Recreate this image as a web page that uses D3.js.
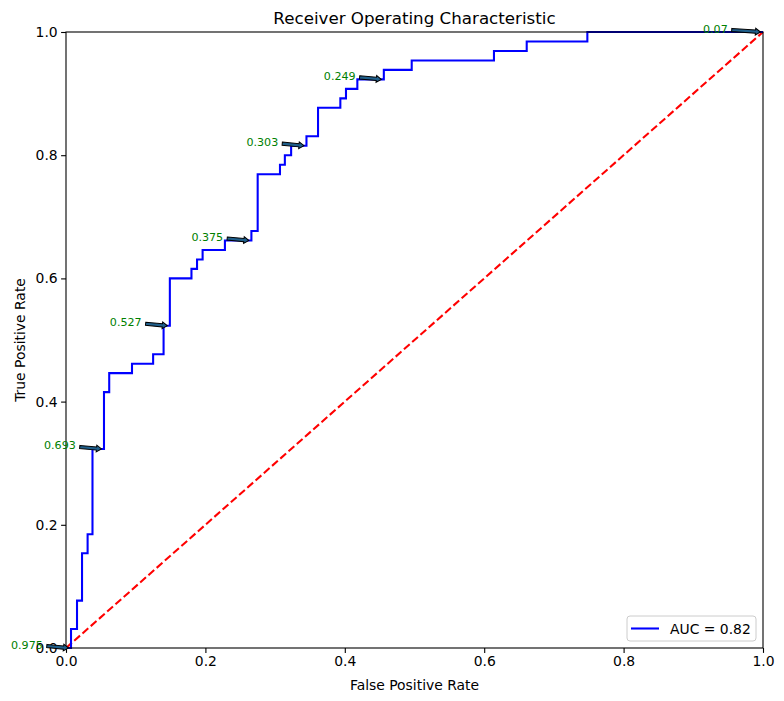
<!DOCTYPE html>
<html><head><meta charset="utf-8">
<script src="https://cdn.jsdelivr.net/npm/d3@7"></script>
<style>body{margin:0;background:#fff;} text{font-family:"DejaVu Sans",sans-serif;}</style>
</head><body>
<svg id="c" width="784" height="701"></svg>
<script>
const fpr = [0,0.0072,0.0072,0.0158,0.0158,0.023,0.023,0.031,0.031,0.038,0.038,0.0545,0.0545,0.062,0.062,0.0947,0.0947,0.125,0.125,0.140,0.140,0.149,0.149,0.180,0.180,0.188,0.188,0.196,0.196,0.228,0.228,0.266,0.266,0.275,0.275,0.307,0.307,0.314,0.314,0.323,0.323,0.345,0.345,0.3616,0.3616,0.3936,0.3936,0.4017,0.4017,0.418,0.418,0.456,0.456,0.496,0.496,0.614,0.614,0.661,0.661,0.748,0.748,1];
const tpr = [0,0,0.0308,0.0308,0.0769,0.0769,0.1538,0.1538,0.1846,0.1846,0.3231,0.3231,0.4154,0.4154,0.4462,0.4462,0.4615,0.4615,0.4769,0.4769,0.5231,0.5231,0.6,0.6,0.6154,0.6154,0.6308,0.6308,0.6462,0.6462,0.6615,0.6615,0.6769,0.6769,0.7692,0.7692,0.7846,0.7846,0.8,0.8,0.8154,0.8154,0.8308,0.8308,0.8769,0.8769,0.8923,0.8923,0.9077,0.9077,0.9231,0.9231,0.9385,0.9385,0.9538,0.9538,0.9692,0.9692,0.9846,0.9846,1,1];
const annotIdx = [1,11,21,31,41,51,61];
const annotLabels = ["0.975","0.693","0.527","0.375","0.303","0.249","0.07"];
const ticks = [0,0.2,0.4,0.6,0.8,1.0];
const aucLabel = "AUC = 0.82";

const svg = d3.select("#c");
const L=66,R=763,T=32,B=648;
const x = d3.scaleLinear().domain([0,1]).range([L,R]);
const y = d3.scaleLinear().domain([0,1]).range([B,T]);

// diagonal
svg.append("line").attr("x1",x(0)).attr("y1",y(0)).attr("x2",x(1)).attr("y2",y(1))
  .attr("stroke","#ff0000").attr("stroke-width",2.08).attr("stroke-dasharray","7.7,3.3");
// roc
const line = d3.line().x((d,i)=>x(fpr[i])).y((d,i)=>y(tpr[i]));
svg.append("path").attr("d",line(fpr)).attr("fill","none").attr("stroke","#0000ff").attr("stroke-width",2.08).attr("stroke-linejoin","miter");

// axes
const xa = svg.append("g").attr("transform",`translate(0,${B})`).call(d3.axisBottom(x).tickValues(ticks).tickFormat(d3.format(".1f")).tickSize(4.9).tickSizeOuter(0));
const ya = svg.append("g").attr("transform",`translate(${L},0)`).call(d3.axisLeft(y).tickValues(ticks).tickFormat(d3.format(".1f")).tickSize(4.9).tickSizeOuter(0));
[xa,ya].forEach(g=>{g.select(".domain").remove();g.selectAll("line").attr("stroke","#000").attr("stroke-width",1.1);
  g.selectAll("text").attr("font-size","13.9px").attr("font-family","DejaVu Sans").attr("fill","#000");});
xa.selectAll("text").attr("dy","0.71em").attr("y",8.3);
ya.selectAll("text").attr("x",-8.3);
// frame
svg.append("rect").attr("x",L).attr("y",T).attr("width",R-L).attr("height",B-T).attr("fill","none").attr("stroke","#000").attr("stroke-width",1.1);

// annotations
annotIdx.forEach((idx,k)=>{
  const px=x(fpr[idx]), py=y(tpr[idx]);
  const t=svg.append("text").attr("x",px-60).attr("y",py+0.5).attr("fill","#008000").attr("font-size","11.1px").text(annotLabels[k]);
  const w=t.node().getComputedTextLength();
  const x0=px-60+w+4, y0=py-2, x1=px-2.5, y1=py;
  const ang=Math.atan2(y1-y0,x1-x0), len=Math.hypot(x1-x0,y1-y0);
  const sw=1.6, hw=3.4, hl=5;
  const pts=[[0,-sw],[len-hl,-sw],[len-hl,-hw],[len,0],[len-hl,hw],[len-hl,sw],[0,sw]];
  svg.append("polygon").attr("points",pts.map(p=>p.join(",")).join(" "))
    .attr("transform",`translate(${x0},${y0}) rotate(${ang*180/Math.PI})`)
    .attr("fill","#1f5f8b").attr("stroke","#000").attr("stroke-width",1);
});

// labels
svg.append("text").attr("x",(L+R)/2).attr("y",24).attr("text-anchor","middle").attr("font-size","16.7px").text("Receiver Operating Characteristic");
svg.append("text").attr("x",(L+R)/2).attr("y",690).attr("text-anchor","middle").attr("font-size","13.9px").text("False Positive Rate");
svg.append("text").attr("transform",`translate(25,${(T+B)/2}) rotate(-90)`).attr("text-anchor","middle").attr("font-size","13.9px").text("True Positive Rate");

// legend
const lg=svg.append("g");
lg.append("rect").attr("x",627).attr("y",616).attr("width",129).attr("height",25).attr("rx",3).attr("fill","#fff").attr("fill-opacity",0.8).attr("stroke","#cccccc");
lg.append("line").attr("x1",631).attr("x2",659).attr("y1",628.5).attr("y2",628.5).attr("stroke","#0000ff").attr("stroke-width",2.08);
lg.append("text").attr("x",670).attr("y",633.5).attr("font-size","13.9px").text(aucLabel);
</script>
</body></html>
